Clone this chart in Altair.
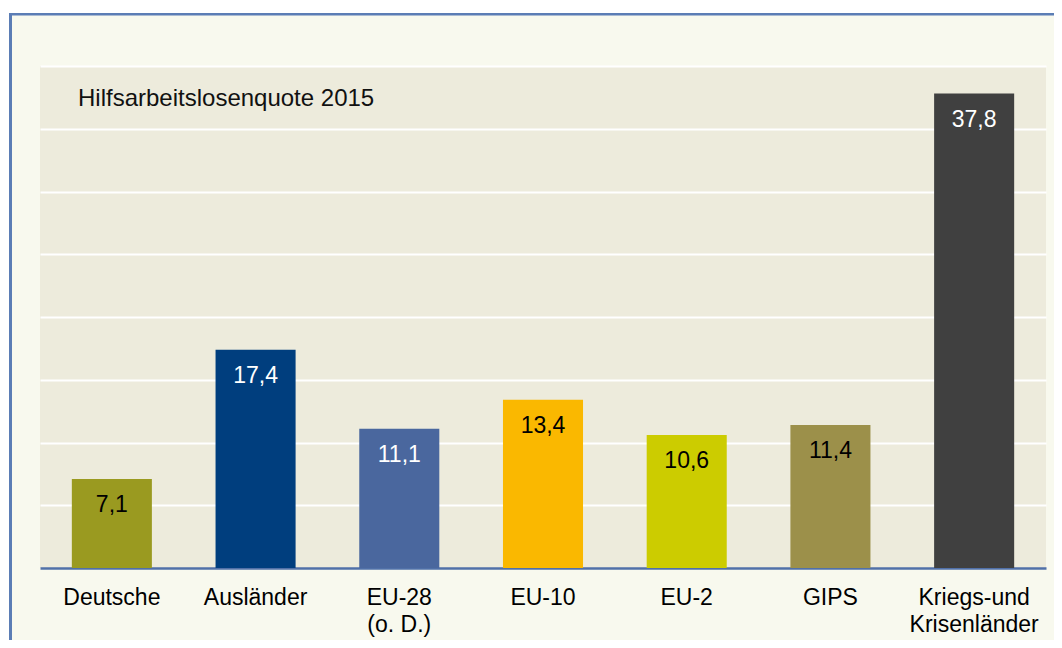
import altair as alt
import pandas as pd

# ---- data ----
categories = ["Deutsche", "Ausländer", "EU-28\n(o. D.)", "EU-10", "EU-2", "GIPS",
              "Kriegs-und\nKrisenländer"]
values = [7.1, 17.4, 11.1, 13.4, 10.6, 11.4, 37.8]
bar_colors = ["#9A9A20", "#003E7E", "#4A679E", "#FAB800", "#CCCC00", "#9C904A", "#404040"]
label_colors = ["#000000", "#FFFFFF", "#FFFFFF", "#000000", "#000000", "#000000", "#FFFFFF"]
annotation = "Hilfsarbeitslosenquote 2015"
grid_values = [5, 10, 15, 20, 25, 30, 35, 40]

FONT = "Liberation Sans"
FRAME_BG = "#F8F9EE"
PLOT_BG = "#EDEBDC"
BORDER = "#5B7DB5"
AXIS_LINE = "#5070A8"

df = pd.DataFrame({
    "cat": categories,
    "value": values,
    "label": [f"{v:.1f}".replace(".", ",") for v in values],
    "color": bar_colors,
    "tcolor": label_colors,
})
dummy = pd.DataFrame({"d": [0]})

x = alt.X(
    "cat:N", sort=categories,
    scale=alt.Scale(paddingInner=0.443, paddingOuter=0.2215),
    axis=alt.Axis(title=None, labelAngle=0, labelExpr="split(datum.value, '\\n')",
                  labelFontSize=23, labelFont=FONT, labelColor="#000000",
                  labelFontWeight="normal",
                  labelPadding=18, ticks=False, tickSize=0, domainColor=AXIS_LINE,
                  domainWidth=2.5, labelLineHeight=27, grid=False),
)
y = alt.Y(
    "value:Q", scale=alt.Scale(domain=[0, 40], nice=False),
    axis=alt.Axis(title=None, labels=False, ticks=False, domain=False, grid=True,
                  values=grid_values, gridColor="#FFFFFF", gridWidth=2),
)

base = alt.Chart(df)
bars = base.mark_bar().encode(x=x, y=y, color=alt.Color("color:N", scale=None))
texts = base.mark_text(baseline="alphabetic", dy=33, fontSize=23, font=FONT,
                       fontWeight="normal").encode(
    x=x, y=y, text="label:N", color=alt.Color("tcolor:N", scale=None)
)

ann = alt.Chart(pd.DataFrame({"t": [annotation]})).mark_text(
    align="left", baseline="alphabetic", fontSize=24, font=FONT, color="#111111",
    fontWeight="normal"
).encode(x=alt.value(38), y=alt.value(40), text="t:N")

white_top = alt.Chart(dummy).mark_rect(color="#FFFFFF").encode(
    x=alt.value(-40), x2=alt.value(1100), y=alt.value(-70), y2=alt.value(-53))
white_left = alt.Chart(dummy).mark_rect(color="#FFFFFF").encode(
    x=alt.value(-40), x2=alt.value(-31), y=alt.value(-70), y2=alt.value(700))
border_left = alt.Chart(dummy).mark_rule(color=BORDER, strokeWidth=3).encode(
    x=alt.value(-29.5), y=alt.value(-53), y2=alt.value(700))
border_top = alt.Chart(dummy).mark_rule(color=BORDER, strokeWidth=2.5).encode(
    x=alt.value(-31), x2=alt.value(1100), y=alt.value(-51.75))

chart = alt.layer(white_top, white_left, border_left, border_top, bars, texts, ann).properties(
    width=1006, height=502,
    padding={"left": 32, "top": 58, "right": 8, "bottom": 72},
    autosize=alt.AutoSizeParams(type="none"),
    background=FRAME_BG,
).configure_view(fill=PLOT_BG, strokeWidth=0)

chart.save("out.html", embed_options={"renderer": "svg", "actions": False})
